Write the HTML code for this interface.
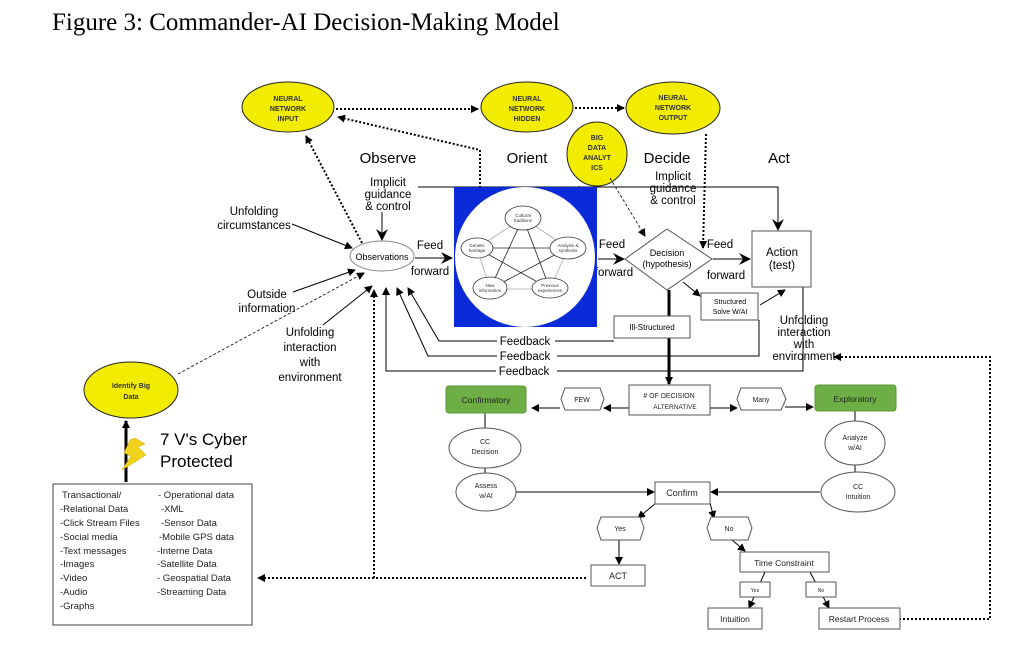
<!DOCTYPE html>
<html><head><meta charset="utf-8"><style>
html,body{margin:0;padding:0;background:#fff;}
svg{display:block;font-family:"Liberation Sans",sans-serif;}
</style></head><body>
<svg width="1009" height="648" viewBox="0 0 1009 648" xmlns="http://www.w3.org/2000/svg">
<defs>
<marker id="a" markerWidth="8" markerHeight="8" refX="7" refY="4" orient="auto" markerUnits="userSpaceOnUse"><path d="M0,0 L8,4 L0,8 Z" fill="#000"/></marker>
<marker id="b" markerWidth="12" markerHeight="12" refX="11" refY="6" orient="auto" markerUnits="userSpaceOnUse"><path d="M0,0 L12,6 L0,12 L4,6 Z" fill="#000"/></marker>
</defs>
<text x="52" y="30" font-family="Liberation Serif,serif" font-size="25">Figure 3: Commander-AI Decision-Making Model</text>

<g stroke="#222" fill="#f2ec00" stroke-width="1">
<ellipse cx="288" cy="107" rx="46" ry="25"/>
<ellipse cx="527" cy="107" rx="46" ry="25"/>
<ellipse cx="673" cy="108" rx="47" ry="26"/>
<ellipse cx="597" cy="154" rx="30" ry="32"/>
<ellipse cx="131" cy="390" rx="47" ry="28"/>
</g>
<g font-size="7" font-weight="bold" text-anchor="middle" fill="#333">
<text x="288" y="101">NEURAL</text><text x="288" y="111">NETWORK</text><text x="288" y="121">INPUT</text>
<text x="527" y="101">NEURAL</text><text x="527" y="111">NETWORK</text><text x="527" y="121">HIDDEN</text>
<text x="673" y="100">NEURAL</text><text x="673" y="110">NETWORK</text><text x="673" y="120">OUTPUT</text>
<text x="597" y="140">BIG</text><text x="597" y="150">DATA</text><text x="597" y="160">ANALYT</text><text x="597" y="170">ICS</text>
<text x="131" y="388">Identify Big</text><text x="131" y="399">Data</text>
</g>

<g stroke="#000" stroke-width="2" stroke-dasharray="2,2" fill="none">
<line x1="336" y1="109" x2="478" y2="109" marker-end="url(#a)"/>
<line x1="575" y1="108" x2="624" y2="108" marker-end="url(#a)"/>
<polyline points="480,188 480,150 338,117" marker-end="url(#a)"/>
<line x1="362" y1="243" x2="306" y2="136" marker-end="url(#a)"/>
<line x1="706" y1="134" x2="703" y2="248" marker-end="url(#a)"/>
<polyline points="374,578 374,290" marker-end="url(#a)"/>
<line x1="586" y1="578" x2="258" y2="578" marker-end="url(#a)"/>
<polyline points="899,619 990,619 990,357 834,357" marker-end="url(#a)"/>
</g>
<g stroke="#000" stroke-width="0.8" stroke-dasharray="3,2" fill="none">
<line x1="610" y1="178" x2="645" y2="236" marker-end="url(#a)"/>
<line x1="579" y1="186" x2="578" y2="236" marker-end="url(#a)"/>
<line x1="178" y1="374" x2="364" y2="273" marker-end="url(#a)"/>
</g>

<g font-size="15" text-anchor="middle">
<text x="388" y="163">Observe</text><text x="527" y="163">Orient</text><text x="667" y="163">Decide</text><text x="779" y="163">Act</text>
</g>
<g font-size="11.5" text-anchor="middle">
<text x="388" y="186">Implicit</text><text x="388" y="198">guidance</text><text x="388" y="210">&amp; control</text>
<text x="673" y="180">Implicit</text><text x="673" y="192">guidance</text><text x="673" y="204">&amp; control</text>
<text x="254" y="215">Unfolding</text><text x="254" y="229">circumstances</text>
<text x="267" y="298">Outside</text><text x="267" y="312">information</text>
<text x="310" y="336">Unfolding</text><text x="310" y="351">interaction</text><text x="310" y="366">with</text><text x="310" y="381">environment</text>
<text x="804" y="324">Unfolding</text><text x="804" y="336">interaction</text><text x="804" y="348">with</text><text x="804" y="360">environment</text>
<text x="430" y="249">Feed</text><text x="430" y="275">forward</text>
<text x="612" y="248">Feed</text><text x="614" y="276">forward</text>
<text x="720" y="248">Feed</text><text x="726" y="279">forward</text>
<text x="525" y="345">Feedback</text><text x="525" y="360">Feedback</text><text x="524" y="375">Feedback</text>
</g>

<g stroke="#000" stroke-width="1" fill="none">
<line x1="382" y1="212" x2="382" y2="240" marker-end="url(#b)"/>
<polyline points="418,187 778,187 778,230" marker-end="url(#b)"/>
<line x1="292" y1="224" x2="352" y2="248" marker-end="url(#a)"/>
<line x1="293" y1="292" x2="355" y2="270" marker-end="url(#a)"/>
<line x1="323" y1="325" x2="372" y2="286" marker-end="url(#a)"/>
<line x1="415" y1="258" x2="452" y2="258" marker-end="url(#b)"/>
<line x1="598" y1="259" x2="624" y2="259" marker-end="url(#b)"/>
<line x1="713" y1="259" x2="750" y2="259" marker-end="url(#b)"/>
<line x1="683" y1="282" x2="700" y2="296" marker-end="url(#a)"/>
<line x1="760" y1="305" x2="785" y2="290" marker-end="url(#a)"/>
<polyline points="614,341 555,341"/><polyline points="497,341 439,341 408,288" marker-end="url(#a)"/>
<polyline points="759,320 759,356 557,356"/><polyline points="497,356 428,356 397,288" marker-end="url(#a)"/>
<polyline points="803,287 803,371 557,371"/><polyline points="496,371 386,371 386,288" marker-end="url(#a)"/>
</g>
<line x1="669" y1="290" x2="669" y2="384" stroke="#000" stroke-width="3" marker-end="url(#a)"/>

<ellipse cx="382" cy="256" rx="32" ry="15" fill="#fff" stroke="#888"/>
<text x="382" y="260" font-size="9" text-anchor="middle">Observations</text>

<rect x="454" y="187" width="143" height="140" fill="#0b2bd8"/>
<circle cx="525" cy="257" r="70" fill="#fff"/>
<g stroke="#222" stroke-width="0.8" fill="none">
<polyline points="523,218 490,289 568,248 477,248 550,289 523,218"/>
<polyline points="523,218 568,248 550,289 490,289 477,248 523,218" stroke="#aaa"/>
</g>
<g stroke="#333" stroke-width="0.8" fill="#fff">
<ellipse cx="523" cy="218" rx="18" ry="12"/><ellipse cx="477" cy="248" rx="16" ry="10"/>
<ellipse cx="568" cy="248" rx="18" ry="11"/><ellipse cx="490" cy="288" rx="17" ry="11"/>
<ellipse cx="550" cy="288" rx="18" ry="10"/>
</g>
<g font-size="4.5" text-anchor="middle" fill="#333">
<text x="523" y="217">Cultural</text><text x="523" y="222">traditions</text>
<text x="477" y="247">Genetic</text><text x="477" y="252">heritage</text>
<text x="568" y="247">Analysis &amp;</text><text x="568" y="252">synthesis</text>
<text x="490" y="287">New</text><text x="490" y="292">information</text>
<text x="550" y="287">Previous</text><text x="550" y="292">experiences</text>
</g>

<polygon points="667,229 712,259 667,290 625,259" fill="#fff" stroke="#555"/>
<text x="667" y="256" font-size="9" text-anchor="middle">Decision</text>
<text x="667" y="267" font-size="9" text-anchor="middle">(hypothesis)</text>
<rect x="752" y="231" width="59" height="56" fill="#fff" stroke="#555"/>
<text x="782" y="256" font-size="11.5" text-anchor="middle">Action</text>
<text x="782" y="269" font-size="11.5" text-anchor="middle">(test)</text>
<rect x="701" y="293" width="57" height="27" fill="#fff" stroke="#555"/>
<text x="730" y="304" font-size="7" text-anchor="middle">Structured</text>
<text x="730" y="314" font-size="7" text-anchor="middle">Solve W/AI</text>
<rect x="614" y="316" width="76" height="22" fill="#fff" stroke="#555"/>
<text x="652" y="330" font-size="8" text-anchor="middle">Ill-Structured</text>

<g stroke="#000" stroke-width="1" fill="none">
<line x1="629" y1="408" x2="604" y2="408" marker-end="url(#a)"/>
<line x1="560" y1="408" x2="532" y2="408" marker-end="url(#a)"/>
<line x1="710" y1="408" x2="737" y2="408" marker-end="url(#a)"/>
<line x1="785" y1="407" x2="813" y2="407" marker-end="url(#a)"/>
<line x1="485" y1="413" x2="485" y2="481"/>
<line x1="855" y1="411" x2="855" y2="472"/>
<line x1="516" y1="492" x2="654" y2="492" marker-end="url(#a)"/>
<line x1="820" y1="492" x2="711" y2="492" marker-end="url(#a)"/>
<line x1="656" y1="503" x2="638" y2="518" marker-end="url(#a)"/>
<line x1="710" y1="503" x2="714" y2="518" marker-end="url(#a)"/>
<line x1="619" y1="540" x2="619" y2="564" marker-end="url(#a)"/>
<line x1="732" y1="540" x2="745" y2="551" marker-end="url(#a)"/>
<line x1="765" y1="572" x2="749" y2="608" marker-end="url(#a)"/>
<line x1="810" y1="572" x2="829" y2="608" marker-end="url(#a)"/>
</g>
<g fill="#fff" stroke="#555">
<rect x="629" y="385" width="81" height="30"/>
<polygon points="565,388 600,388 604,399 600,410 565,410 561,399"/>
<polygon points="741,388 781,388 786,399 781,410 741,410 737,399"/>
<rect x="446" y="386" width="80" height="27" rx="3" fill="#6dae45" stroke="#5a9a38"/>
<rect x="815" y="385" width="81" height="26" rx="3" fill="#6dae45" stroke="#5a9a38"/>
<ellipse cx="485" cy="448" rx="36" ry="20"/>
<ellipse cx="486" cy="492" rx="30" ry="19"/>
<ellipse cx="855" cy="443" rx="30" ry="22"/>
<ellipse cx="858" cy="492" rx="37" ry="20"/>
<rect x="655" y="482" width="55" height="22"/>
<polygon points="601,517 640,517 644,528 640,540 601,540 597,528"/>
<polygon points="711,517 748,517 752,528 748,540 711,540 707,528"/>
<rect x="591" y="565" width="54" height="21"/>
<rect x="740" y="552" width="89" height="20"/>
<rect x="740" y="582" width="30" height="15"/>
<rect x="806" y="582" width="30" height="15"/>
<rect x="708" y="608" width="54" height="21"/>
<rect x="819" y="608" width="81" height="21"/>
</g>
<g font-size="8" text-anchor="middle" fill="#222">
<text x="669" y="398" font-size="7">&#35; OF DECISION</text><text x="675" y="409" font-size="6.5">ALTERNATIVE</text>
<text x="582" y="402" font-size="7">FEW</text><text x="761" y="402" font-size="7">Many</text>
<text x="486" y="403" font-size="8.5">Confirmatory</text><text x="855" y="402" font-size="8.5">Exploratory</text>
<text x="485" y="444" font-size="7">CC</text><text x="485" y="454" font-size="7">Decision</text>
<text x="486" y="488" font-size="7">Assess</text><text x="486" y="498" font-size="7">w/AI</text>
<text x="855" y="440" font-size="7">Analyze</text><text x="855" y="450" font-size="7">w/AI</text>
<text x="858" y="489" font-size="7">CC</text><text x="858" y="499" font-size="7">Intuition</text>
<text x="682" y="496" font-size="9">Confirm</text>
<text x="620" y="531" font-size="7">Yes</text><text x="729" y="531" font-size="7">No</text>
<text x="618" y="579" font-size="9">ACT</text>
<text x="784" y="566" font-size="8.5">Time Constraint</text>
<text x="755" y="592" font-size="5">Yes</text><text x="821" y="592" font-size="5">No</text>
<text x="735" y="622" font-size="8.5">Intuition</text>
<text x="859" y="622" font-size="8.5">Restart Process</text>
</g>

<line x1="126" y1="482" x2="126" y2="421" stroke="#000" stroke-width="3" marker-end="url(#a)"/>
<polygon points="135,438 145,444 138,447 146,455 122,470 131,456 124,453 130,440" fill="#f1d21a" stroke="#c9a400" stroke-width="0.5"/>
<text x="160" y="445" font-size="17">7 V's Cyber</text>
<text x="160" y="467" font-size="17">Protected</text>
<rect x="53" y="484" width="199" height="141" fill="#fff" stroke="#444"/>
<g font-size="9.5" fill="#222">
<text x="62" y="498">Transactional/</text><text x="60" y="512">-Relational Data</text>
<text x="60" y="526">-Click Stream Files</text><text x="60" y="540">-Social media</text>
<text x="60" y="554">-Text messages</text><text x="60" y="567">-Images</text>
<text x="60" y="581">-Video</text><text x="60" y="595">-Audio</text><text x="60" y="609">-Graphs</text>
<text x="158" y="498">- Operational data</text><text x="161" y="512">-XML</text>
<text x="161" y="526">-Sensor Data</text><text x="159" y="540">-Mobile GPS data</text>
<text x="157" y="554">-Interne Data</text><text x="157" y="567">-Satellite Data</text>
<text x="157" y="581">- Geospatial Data</text><text x="157" y="595">-Streaming Data</text>
</g>
</svg>
</body></html>
